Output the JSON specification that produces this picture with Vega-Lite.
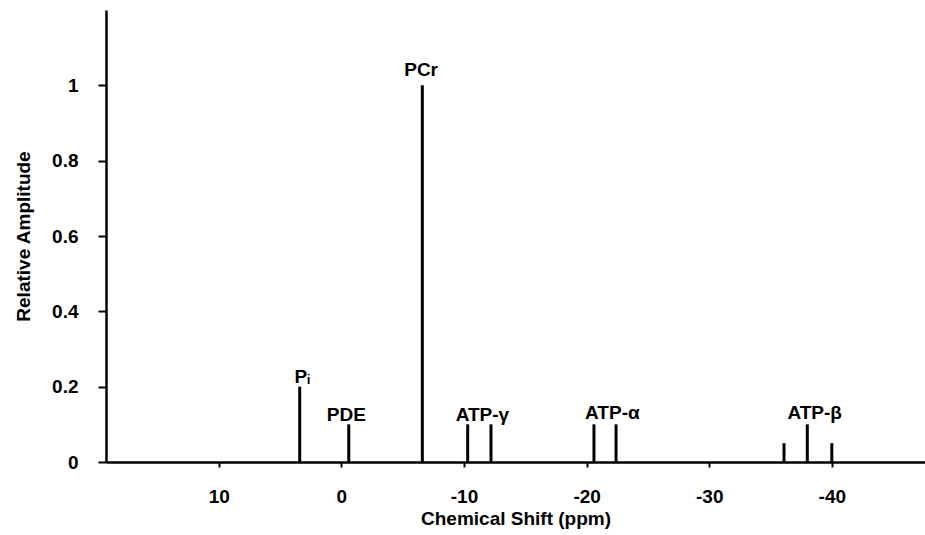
{
  "$schema": "https://vega.github.io/schema/vega-lite/v6.json",
  "autosize": {"type": "none"},
  "width": 819,
  "height": 452,
  "padding": {"left": 106, "top": 10, "right": 0, "bottom": 73},
  "background": "white",
  "config": {
    "view": {"stroke": null},
    "font": "Liberation Sans",
    "axis": {
      "grid": false,
      "domainColor": "black",
      "domainWidth": 2.5,
      "tickColor": "black",
      "tickWidth": 2,
      "labelColor": "black",
      "titleColor": "black",
      "labelFont": "Liberation Sans",
      "titleFont": "Liberation Sans",
      "labelFontSize": 19,
      "labelFontWeight": "bold",
      "titleFontSize": 19,
      "titleFontWeight": "bold"
    }
  },
  "datasets": {
    "peaks": [
      {"name": "Pi", "shift": 3.4, "amp": 0.2},
      {"name": "PDE", "shift": -0.6, "amp": 0.1},
      {"name": "PCr", "shift": -6.6, "amp": 1.0},
      {"name": "ATP-gamma 1", "shift": -10.3, "amp": 0.1},
      {"name": "ATP-gamma 2", "shift": -12.2, "amp": 0.1},
      {"name": "ATP-alpha 1", "shift": -20.6, "amp": 0.1},
      {"name": "ATP-alpha 2", "shift": -22.4, "amp": 0.1},
      {"name": "ATP-beta 1", "shift": -36.1, "amp": 0.05},
      {"name": "ATP-beta 2", "shift": -38.0, "amp": 0.1},
      {"name": "ATP-beta 3", "shift": -40.0, "amp": 0.05}
    ],
    "labels": [
      {"label": "Pᵢ", "shift": 3.2, "amp": 0.21},
      {"label": "PDE", "shift": -0.4, "amp": 0.11},
      {"label": "PCr", "shift": -6.5, "amp": 1.025},
      {"label": "ATP-γ", "shift": -11.5, "amp": 0.11},
      {"label": "ATP-α", "shift": -22.1, "amp": 0.115},
      {"label": "ATP-β", "shift": -38.6, "amp": 0.115}
    ]
  },
  "layer": [
    {
      "data": {"name": "peaks"},
      "mark": {"type": "rule", "color": "black", "strokeWidth": 3},
      "encoding": {
        "x": {
          "field": "shift",
          "type": "quantitative",
          "scale": {"domain": [19.2, -47.6], "nice": false, "zero": false},
          "axis": {
            "title": "Chemical Shift (ppm)",
            "values": [10, 0, -10, -20, -30, -40],
            "labelExpr": "datum.value + ''",
            "tickSize": 5,
            "labelPadding": 20,
            "titlePadding": 3
          }
        },
        "y": {
          "field": "amp",
          "type": "quantitative",
          "scale": {"domain": [0, 1.2], "nice": false},
          "axis": {
            "title": "Relative Amplitude",
            "values": [0, 0.2, 0.4, 0.6, 0.8, 1],
            "format": "~g",
            "tickSize": 8,
            "labelPadding": 20,
            "titlePadding": 18
          }
        },
        "y2": {"datum": 0}
      }
    },
    {
      "data": {"name": "labels"},
      "mark": {"type": "text", "fontSize": 19, "fontWeight": "bold", "baseline": "alphabetic", "align": "center", "color": "black", "font": "Liberation Sans"},
      "encoding": {
        "x": {"field": "shift", "type": "quantitative"},
        "y": {"field": "amp", "type": "quantitative"},
        "text": {"field": "label"}
      }
    }
  ]
}
